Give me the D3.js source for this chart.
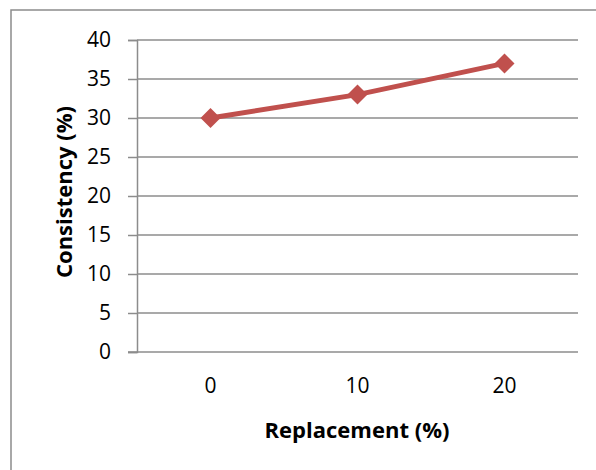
<!DOCTYPE html>
<html><head><meta charset="utf-8">
<script src="https://cdn.jsdelivr.net/npm/d3@7"></script>
<style>body{margin:0;background:#fff}svg text{font-family:"Open Sans",sans-serif;fill:#000}</style>
</head><body><svg id="c" width="596" height="470"></svg>
<script>
const categories = ["0","10","20"];
const values = [30,33,37];
const yTicks = [0,5,10,15,20,25,30,35,40];
const xTitle = "Replacement (%)";
const yTitle = "Consistency (%)";

const svg = d3.select("#c");
const L=137,R=578,T=40,B=352;
svg.append("rect").attr("x",11).attr("y",10).attr("width",600).attr("height",480)
  .attr("fill","#fff").attr("stroke","#8c8c8c").attr("stroke-width",1.5);
const x = d3.scaleBand().domain(categories).range([L,R]);
const y = d3.scaleLinear().domain([0,40]).range([B,T]);
const grid="#8c8c8c";
const ya = svg.append("g").attr("transform",`translate(${L},0)`)
  .call(d3.axisLeft(y).tickValues(yTicks).tickSize(9).tickPadding(17));
ya.select(".domain").attr("stroke",grid).attr("stroke-width",1.5);
ya.selectAll(".tick line").attr("stroke",grid).attr("stroke-width",1.5);
ya.selectAll("text").style("font-size","21px");
svg.append("g").selectAll("line").data(yTicks.filter(d=>d>0)).join("line")
  .attr("x1",L).attr("x2",R).attr("y1",d=>y(d)).attr("y2",d=>y(d))
  .attr("stroke",grid).attr("stroke-width",1.5);
const xa = svg.append("g").attr("transform",`translate(0,${B})`)
  .call(d3.axisBottom(x).tickSize(0).tickPadding(26));
xa.select(".domain").attr("stroke",grid).attr("stroke-width",1.5).attr("d",`M${L-9},0H${R}`);
xa.selectAll("text").style("font-size","21px");
const line = d3.line().x((d,i)=>x(categories[i])+x.bandwidth()/2).y(d=>y(d));
svg.append("path").datum(values).attr("d",line).attr("fill","none")
  .attr("stroke","#C0504D").attr("stroke-width",5);
svg.append("g").selectAll("path").data(values).join("path")
  .attr("d",d3.symbol(d3.symbolDiamond2,255))
  .attr("transform",(d,i)=>`translate(${x(categories[i])+x.bandwidth()/2},${y(d)})`)
  .attr("fill","#C0504D");
svg.append("text").attr("x",357).attr("y",438).attr("text-anchor","middle")
  .style("font-size","22px").style("font-weight","bold").text(xTitle);
svg.append("text").attr("transform","translate(72,192) rotate(-90)").attr("text-anchor","middle")
  .style("font-size","22px").style("font-weight","bold").text(yTitle);
</script></body></html>
